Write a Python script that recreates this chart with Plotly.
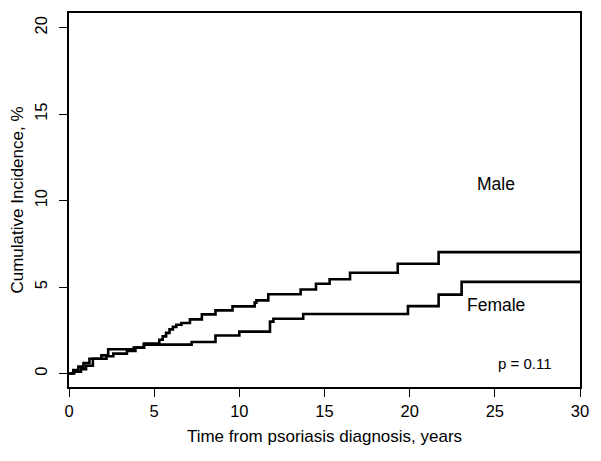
import plotly.graph_objects as go

male_t = [0, 0.25, 0.55, 0.85, 1.2, 1.9, 2.3, 3.8, 4.4, 5.3, 5.5, 5.7, 5.9, 6.1, 6.3, 6.6, 7.1, 7.8, 8.6, 9.6, 10.9, 11.0, 11.7, 13.6, 14.5, 15.3, 16.5, 19.3, 21.7, 30]
male_v = [0, 0.2, 0.4, 0.6, 0.85, 1.05, 1.4, 1.5, 1.73, 1.95, 2.15, 2.35, 2.55, 2.7, 2.82, 2.92, 3.13, 3.42, 3.65, 3.88, 4.1, 4.23, 4.58, 4.86, 5.19, 5.45, 5.83, 6.35, 7.02, 7.02]

female_t = [0, 0.3, 0.7, 1.0, 1.4, 2.2, 2.6, 3.4, 3.9, 4.4, 7.2, 8.6, 10.0, 11.8, 12.0, 13.75, 19.9, 21.7, 23.05, 30]
female_v = [0, 0.1, 0.25, 0.45, 0.85, 1.0, 1.15, 1.3, 1.5, 1.67, 1.82, 2.2, 2.42, 3.0, 3.17, 3.44, 3.9, 4.56, 5.3, 5.3]

x_ticks = [0, 5, 10, 15, 20, 25, 30]
y_ticks = [0, 5, 10, 15, 20]

FAM = "Liberation Sans, Arial, sans-serif"

fig = go.Figure()
fig.add_trace(go.Scatter(x=male_t, y=male_v, mode="lines", line=dict(shape="hv", color="black", width=2.6), name="Male"))
fig.add_trace(go.Scatter(x=female_t, y=female_v, mode="lines", line=dict(shape="hv", color="black", width=2.6), name="Female"))

fig.add_annotation(x=25.05, y=10.98, text="Male", showarrow=False, font=dict(family=FAM, size=17.5, color="black"), xanchor="center", yanchor="middle")
fig.add_annotation(x=25.05, y=3.94, text="Female", showarrow=False, font=dict(family=FAM, size=17.5, color="black"), xanchor="center", yanchor="middle")
fig.add_annotation(x=26.8, y=0.58, text="p = 0.11", showarrow=False, font=dict(family=FAM, size=15, color="black"), xanchor="center", yanchor="middle")

fig.update_layout(
    width=585, height=445,
    margin=dict(l=59.7, r=11.3, t=3.7, b=66.3, pad=0),
    paper_bgcolor="white", plot_bgcolor="white",
    showlegend=False,
    font=dict(family=FAM, size=16, color="black"),
)
fig.update_xaxes(
    range=[0, 30], tickvals=x_ticks, ticktext=[str(v) for v in x_ticks],
    showline=True, mirror=True, linecolor="black", linewidth=1.5,
    ticks="outside", ticklen=8, tickcolor="black", tickwidth=1,
    tickfont=dict(family=FAM, size=16.5, color="black"),
    showgrid=False, zeroline=False,
    title=dict(text="Time from psoriasis diagnosis, years", font=dict(family=FAM, size=17, color="black"), standoff=12),
)
fig.update_yaxes(
    range=[-0.78, 20.85], tickvals=y_ticks, ticktext=[str(v) for v in y_ticks],
    tickangle=-90, ticklabelstandoff=6,
    showline=True, mirror=True, linecolor="black", linewidth=1.5,
    ticks="outside", ticklen=8, tickcolor="black", tickwidth=1,
    tickfont=dict(family=FAM, size=16.5, color="black"),
    showgrid=False, zeroline=False,
    title=dict(text="Cumulative Incidence, %", font=dict(family=FAM, size=17, color="black"), standoff=8),
)
fig.write_html("out.html")
